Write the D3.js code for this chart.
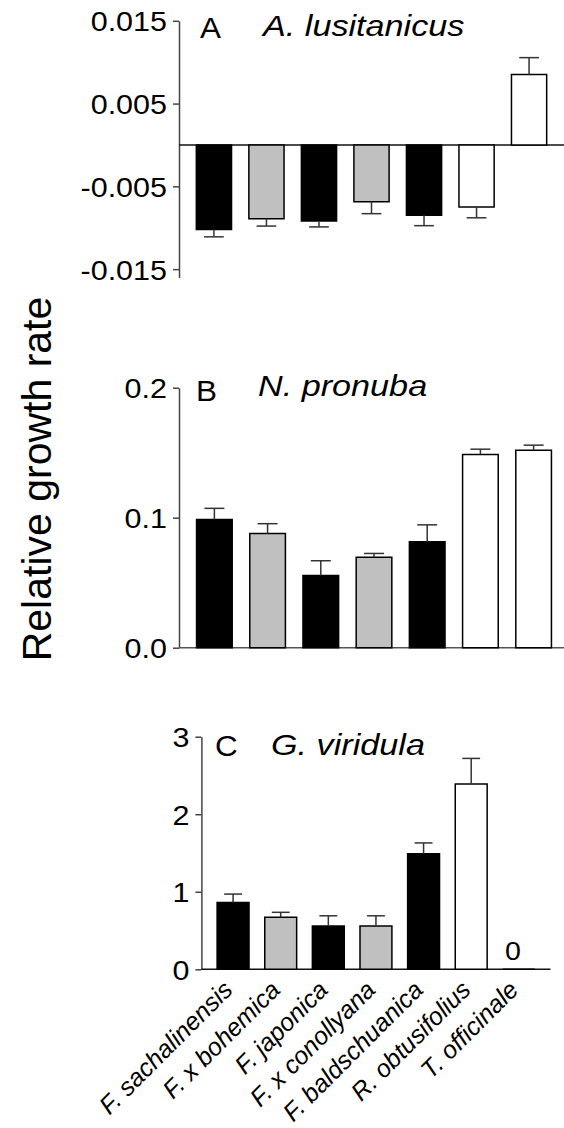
<!DOCTYPE html>
<html>
<head>
<meta charset="utf-8">
<script src="https://cdn.jsdelivr.net/npm/d3@7"></script>
<style>
  body { margin: 0; background: #fff; }
  svg { display: block; }
  text { font-family: "Liberation Sans", Arial, Helvetica, sans-serif; }
</style>
</head>
<body>
<svg id="chart" width="564" height="1128"></svg>
<script>
// Host plant species (x categories) and their group
const species = ["F. sachalinensis", "F. x bohemica", "F. japonica", "F. x conollyana",
                 "F. baldschuanica", "R. obtusifolius", "T. officinale"];
const plantGroup = ["parent", "hybrid", "parent", "hybrid", "parent", "native", "native"];

// A. lusitanicus: mean relative growth rate and SE
const lusitanicusMean = [-0.0102, -0.0089, -0.0092, -0.00685, -0.0085, -0.0075, 0.0085];
const lusitanicusSE   = [0.0009, 0.0009, 0.0007, 0.00145, 0.00125, 0.0013, 0.00205];
const lusitanicusTicks = [0.015, 0.005, -0.005, -0.015];
const lusitanicusTickLabels = ["0.015", "0.005", "-0.005", "-0.015"];

// N. pronuba
const pronubaMean = [0.0987, 0.0879, 0.0556, 0.0695, 0.0815, 0.1487, 0.1518];
const pronubaSE   = [0.0085, 0.0075, 0.0113, 0.003, 0.013, 0.004, 0.004];
const pronubaTicks = [0.2, 0.1, 0.0];
const pronubaTickLabels = ["0.2", "0.1", "0.0"];

// G. viridula
const viridulaMean = [0.86, 0.67, 0.56, 0.56, 1.49, 2.39, 0];
const viridulaSE   = [0.11, 0.065, 0.13, 0.13, 0.14, 0.33, 0];
const viridulaTicks = [3, 2, 1, 0];
const viridulaTickLabels = ["3", "2", "1", "0"];

const fills = { parent: "#000000", hybrid: "#c0c0c0", native: "#ffffff" };

const panels = [
  {
    mean: lusitanicusMean, se: lusitanicusSE,
    ticks: lusitanicusTicks, tickLabels: lusitanicusTickLabels,
    yDomain: [-0.016, 0.015], yRange: [277.4, 20.8],
    xRange: [179, 564], baseEnd: 564, baseColor: "#111",
    letter: "A", letterPos: [200, 38], title: "A. lusitanicus", titlePos: [263, 36]
  },
  {
    mean: pronubaMean, se: pronubaSE,
    ticks: pronubaTicks, tickLabels: pronubaTickLabels,
    yDomain: [0, 0.2], yRange: [647.7, 387.7],
    xRange: [179, 569], baseEnd: 564, baseColor: "#555",
    letter: "B", letterPos: [196, 401], title: "N. pronuba", titlePos: [258, 396]
  },
  {
    mean: viridulaMean, se: viridulaSE,
    ticks: viridulaTicks, tickLabels: viridulaTickLabels,
    yDomain: [0, 3], yRange: [969.3, 736.7],
    xRange: [201.4, 550.5], baseEnd: 550.5, baseColor: "#111",
    letter: "C", letterPos: [215, 756], title: "G. viridula", titlePos: [271, 755],
    zeroLabels: true, categoryLabels: true
  }
];

const svg = d3.select("#chart");

panels.forEach(p => {
  const g = svg.append("g");
  const x = d3.scaleBand().domain(species).range(p.xRange)
    .paddingInner(0.33).paddingOuter(0.33);
  const y = d3.scaleLinear().domain(p.yDomain).range(p.yRange);
  const axisX = p.xRange[0];

  // y axis
  const ax = g.append("g")
    .attr("transform", `translate(${axisX},0)`)
    .call(d3.axisLeft(y)
      .tickValues(p.ticks)
      .tickFormat((d, i) => p.tickLabels[i])
      .tickSize(6).tickSizeOuter(0));
  ax.attr("font-family", null).attr("font-size", null);
  ax.select(".domain").attr("stroke", "#444").attr("stroke-width", 1.5);
  ax.selectAll(".tick line").attr("stroke", "#444").attr("stroke-width", 1.5);
  ax.selectAll(".tick text")
    .attr("x", 0).attr("dy", "0.36em")
    .attr("font-size", 28).attr("fill", "#000")
    .attr("transform", "translate(-12,0) scale(1.09,1)");

  // baseline at zero
  g.append("line")
    .attr("x1", axisX).attr("x2", p.baseEnd)
    .attr("y1", y(0)).attr("y2", y(0))
    .attr("stroke", p.baseColor).attr("stroke-width", 1.5);

  // bars (path so that a zero-height bar still shows its outline)
  g.selectAll("path.bar").data(species).join("path")
    .attr("class", "bar")
    .attr("d", (d, i) => {
      const x0 = x(d), w = x.bandwidth(), y0 = y(0), y1 = y(p.mean[i]);
      const pa = d3.path();
      pa.moveTo(x0, y0); pa.lineTo(x0, y1); pa.lineTo(x0 + w, y1); pa.lineTo(x0 + w, y0);
      pa.closePath();
      return pa.toString();
    })
    .attr("fill", (d, i) => fills[plantGroup[i]])
    .attr("stroke", "#000").attr("stroke-width", 1.5);

  // one-sided error bars
  const cap = x.bandwidth() * 0.56;
  species.forEach((d, i) => {
    const v = p.mean[i], s = p.se[i];
    if (!s) return;
    const dir = v < 0 ? -1 : 1;
    const cx = x(d) + x.bandwidth() / 2;
    const yEnd = y(v + dir * s);
    g.append("line").attr("x1", cx).attr("x2", cx).attr("y1", y(v)).attr("y2", yEnd)
      .attr("stroke", "#333").attr("stroke-width", 1.5);
    g.append("line").attr("x1", cx - cap / 2).attr("x2", cx + cap / 2).attr("y1", yEnd).attr("y2", yEnd)
      .attr("stroke", "#333").attr("stroke-width", 1.5);
  });

  // zero value labels
  if (p.zeroLabels) {
    species.forEach((d, i) => {
      if (p.mean[i] !== 0) return;
      g.append("text")
        .attr("transform", `translate(${x(d) + x.bandwidth() / 2 - 6},${y(0) - 9}) scale(1.1,1)`)
        .attr("text-anchor", "middle")
        .attr("font-size", 26)
        .text(String(p.mean[i]));
    });
  }

  // panel letter and species title
  g.append("text")
    .attr("transform", `translate(${p.letterPos[0]},${p.letterPos[1]}) scale(1.05,1)`)
    .attr("font-size", 30)
    .text(p.letter);
  g.append("text")
    .attr("transform", `translate(${p.titlePos[0]},${p.titlePos[1]}) scale(1.14,1)`)
    .attr("font-size", 30).attr("font-style", "italic")
    .text(p.title);

  // rotated category labels
  if (p.categoryLabels) {
    g.selectAll("text.cat").data(species).join("text")
      .attr("class", "cat")
      .attr("transform", d => `translate(${x(d) + x.bandwidth() / 2 + 1},${y(0) + 22}) rotate(-45)`)
      .attr("text-anchor", "end")
      .attr("font-size", 25).attr("font-style", "italic")
      .text(d => d);
  }
});

// shared y-axis title
svg.append("text")
  .attr("transform", "translate(51,479) rotate(-90)")
  .attr("text-anchor", "middle")
  .attr("font-size", 41)
  .text("Relative growth rate");
</script>
</body>
</html>
